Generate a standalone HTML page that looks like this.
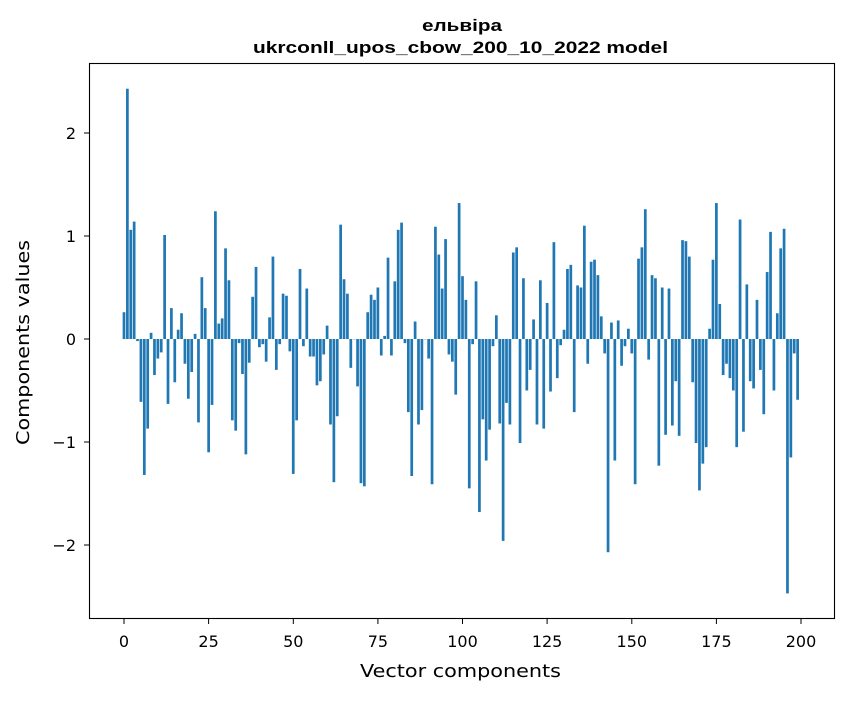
<!DOCTYPE html>
<html><head><meta charset="utf-8"><style>
html,body{margin:0;padding:0;background:#fff;}
svg text{font-family:"DejaVu Sans","Liberation Sans",sans-serif;fill:#000;}
svg text.t{font-family:"Liberation Sans","DejaVu Sans",sans-serif;font-weight:bold;}
</style></head><body>
<svg id="s" width="847" height="696" viewBox="0 0 847 696" xmlns="http://www.w3.org/2000/svg">
<rect width="847" height="696" fill="#fff"/>
<g id="bars"></g>
<rect x="89.5" y="63.5" width="745" height="555" fill="none" stroke="#000" stroke-width="1.1"/>
<g stroke="#000" stroke-width="1">
<line x1="124" y1="619" x2="124" y2="624"/><line x1="208.6" y1="619" x2="208.6" y2="624"/><line x1="293.3" y1="619" x2="293.3" y2="624"/><line x1="377.9" y1="619" x2="377.9" y2="624"/><line x1="462.5" y1="619" x2="462.5" y2="624"/><line x1="547.1" y1="619" x2="547.1" y2="624"/><line x1="631.8" y1="619" x2="631.8" y2="624"/><line x1="716.4" y1="619" x2="716.4" y2="624"/><line x1="801" y1="619" x2="801" y2="624"/>
<line x1="84" y1="133" x2="89" y2="133"/><line x1="84" y1="236" x2="89" y2="236"/><line x1="84" y1="339" x2="89" y2="339"/><line x1="84" y1="442" x2="89" y2="442"/><line x1="84" y1="545" x2="89" y2="545"/>
</g>
<g font-size="16" text-anchor="middle">
<text x="124" y="647">0</text><text x="208.6" y="647">25</text><text x="293.3" y="647">50</text><text x="377.9" y="647">75</text><text x="462.5" y="647">100</text><text x="547.1" y="647">125</text><text x="631.8" y="647">150</text><text x="716.4" y="647">175</text><text x="801" y="647">200</text>
</g>
<g font-size="16" text-anchor="end">
<text x="76" y="139">2</text><text x="76" y="242">1</text><text x="76" y="345">0</text><text x="76" y="448">−1</text><text x="76" y="551">−2</text>
</g>
<text x="360" y="677" font-size="18" textLength="201" lengthAdjust="spacingAndGlyphs">Vector components</text>
<text transform="translate(29,445) rotate(-90)" font-size="18" textLength="205" lengthAdjust="spacingAndGlyphs">Components values</text>
<text class="t" x="422" y="31" font-size="17" textLength="80" lengthAdjust="spacingAndGlyphs">ельвіра</text>
<text class="t" x="253" y="53" font-size="17" textLength="415" lengthAdjust="spacingAndGlyphs">ukrconll_upos_cbow_200_10_2022 model</text>
</svg>
<script>
var v=[0.26,2.43,1.06,1.14,-0.02,-0.61,-1.32,-0.87,0.06,-0.35,-0.19,-0.13,1.01,-0.63,0.30,-0.42,0.09,0.25,-0.24,-0.58,-0.32,0.05,-0.81,0.60,0.30,-1.10,-0.64,1.24,0.15,0.20,0.88,0.57,-0.79,-0.89,-0.04,-0.34,-1.12,-0.23,0.41,0.70,-0.08,-0.05,-0.22,0.21,0.80,-0.30,-0.05,0.44,0.42,-0.12,
-1.31,-0.79,0.68,-0.07,0.49,-0.17,-0.17,-0.45,-0.41,-0.15,0.13,-0.83,-1.39,-0.75,1.11,0.58,0.44,-0.28,0.0,-0.46,-1.40,-1.43,0.26,0.43,0.38,0.50,-0.16,0.03,0.79,-0.16,0.56,1.06,1.13,-0.04,-0.71,-1.33,0.17,-0.83,-0.69,0.0,-0.19,-1.41,1.09,0.82,0.49,0.97,-0.15,-0.22,-0.54,1.32,
0.61,0.38,-1.45,-0.05,0.56,-1.68,-0.78,-1.18,-0.88,-0.07,0.23,-0.82,-1.96,-0.62,-0.83,0.84,0.89,-1.01,0.59,-0.50,-0.30,0.19,-0.83,0.57,-0.87,0.35,-0.51,0.94,-0.38,-0.06,0.09,0.68,0.72,-0.71,0.52,0.50,1.10,-0.24,0.75,0.77,0.62,0.22,-0.14,-2.07,0.16,-1.18,0.18,-0.26,-0.07,0.10,
-0.14,-1.41,0.78,0.89,1.26,-0.20,0.62,0.59,-1.23,0.50,-0.93,0.49,-0.84,-0.41,-0.94,0.96,0.95,0.80,-0.42,-1.01,-1.47,-1.21,-1.05,0.10,0.77,1.32,0.34,-0.35,-0.24,-0.38,-0.50,-1.05,1.16,-0.90,0.53,-0.41,-0.48,0.38,-0.30,-0.73,0.65,1.04,-0.50,0.25,0.88,1.07,-2.47,-1.15,-0.14,-0.59];
var g=document.getElementById('bars'),ns='http://www.w3.org/2000/svg';
for(var i=0;i<v.length;i++){var r=document.createElementNS(ns,'rect');var x=124+3.385*i-1.354;var h=v[i]*103;
r.setAttribute('x',x);r.setAttribute('width',2.71);r.setAttribute('y',h>0?339-h:339);r.setAttribute('height',Math.max(Math.abs(h),0.3));r.setAttribute('fill','#1f77b4');g.appendChild(r);}
</script>
</body></html>
